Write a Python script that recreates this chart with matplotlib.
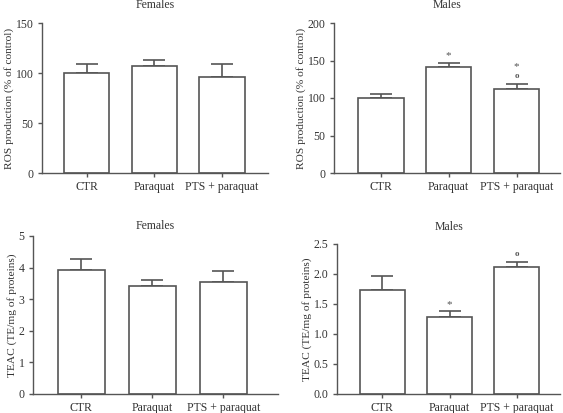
import matplotlib.pyplot as plt

plt.rcParams['font.family'] = ['Liberation Serif', 'DejaVu Serif']

groups = ["CTR", "Paraquat", "PTS + paraquat"]

ros_f = [100, 107, 96]
ros_f_err = [9, 6, 13.5]
ros_m = [100, 142, 112]
ros_m_err = [6, 5, 7]
teac_f = [3.93, 3.43, 3.53]
teac_f_err = [0.34, 0.18, 0.37]
teac_m = [1.74, 1.28, 2.12]
teac_m_err = [0.23, 0.10, 0.08]

# significance marks per bar, listed bottom to top
ros_m_marks = [[], ["*"], ["o", "*"]]
teac_m_marks = [[], ["*"], ["o"]]

W, H = 563, 413
fig = plt.figure(figsize=(W / 100, H / 100), dpi=100)
edge = "#555555"


def panel(box, xlim, vals, errs, title, tpad, ylabel, ylim, yticks, ytl, marks=None):
    l, r, t, b = box
    ax = fig.add_axes([l / W, (H - b) / H, (r - l) / W, (b - t) / H])
    x = range(len(vals))
    ax.bar(x, vals, width=0.67, color="white", edgecolor=edge, linewidth=1.2, zorder=2)
    ax.errorbar(x, vals, yerr=[[0] * len(errs), errs], fmt="none", ecolor=edge,
                elinewidth=1.2, capsize=8, capthick=1.2, zorder=1)
    ax.set_xlim(*xlim)
    ax.set_ylim(*ylim)
    ax.set_yticks(yticks)
    ax.set_yticklabels(ytl)
    ax.set_xticks(list(x))
    ax.set_xticklabels(groups)
    for s in ["top", "right"]:
        ax.spines[s].set_visible(False)
    for s in ["left", "bottom"]:
        ax.spines[s].set_color(edge)
        ax.spines[s].set_linewidth(1.0)
    ax.tick_params(axis="both", colors=edge, labelcolor="#333333", labelsize=8.5,
                   length=3, width=1.0, pad=3)
    ax.set_title(title, fontsize=8.5, color="#333333", pad=tpad)
    ax.set_ylabel(ylabel, fontsize=8.2, color="#333333", labelpad=1.5)
    if marks:
        for i, ms in enumerate(marks):
            off = 5
            for m in ms:
                if m == "o":
                    ax.annotate("o", (i, vals[i] + errs[i]), xytext=(0, off + 0.5),
                                textcoords="offset points", ha="center", va="center",
                                fontsize=6.5, fontweight="bold", color=edge)
                else:
                    ax.annotate("*", (i, vals[i] + errs[i]), xytext=(0, off),
                                textcoords="offset points", ha="center", va="center",
                                fontsize=8, color=edge)
                off += 7
    return ax


panel((42, 268, 23, 173), (-0.66, 2.68), ros_f, ros_f_err, "Females", 11,
      "ROS production (% of control)", (0, 150), [0, 50, 100, 150],
      ["0", "50", "100", "150"])
panel((334, 560, 23, 173), (-0.69, 2.64), ros_m, ros_m_err, "Males", 11,
      "ROS production (% of control)", (0, 200), [0, 50, 100, 150, 200],
      ["0", "50", "100", "150", "200"], ros_m_marks)
panel((33, 278, 236, 394), (-0.68, 2.77), teac_f, teac_f_err, "Females", 5,
      "TEAC (TE/mg of proteins)", (0, 5), [0, 1, 2, 3, 4, 5],
      ["0", "1", "2", "3", "4", "5"])
panel((337, 560, 244, 394), (-0.67, 2.64), teac_m, teac_m_err, "Males", 10,
      "TEAC (TE/mg of proteins)", (0, 2.5), [0, 0.5, 1.0, 1.5, 2.0, 2.5],
      ["0.0", "0.5", "1.0", "1.5", "2.0", "2.5"], teac_m_marks)

fig.savefig("out.png", dpi=100)
